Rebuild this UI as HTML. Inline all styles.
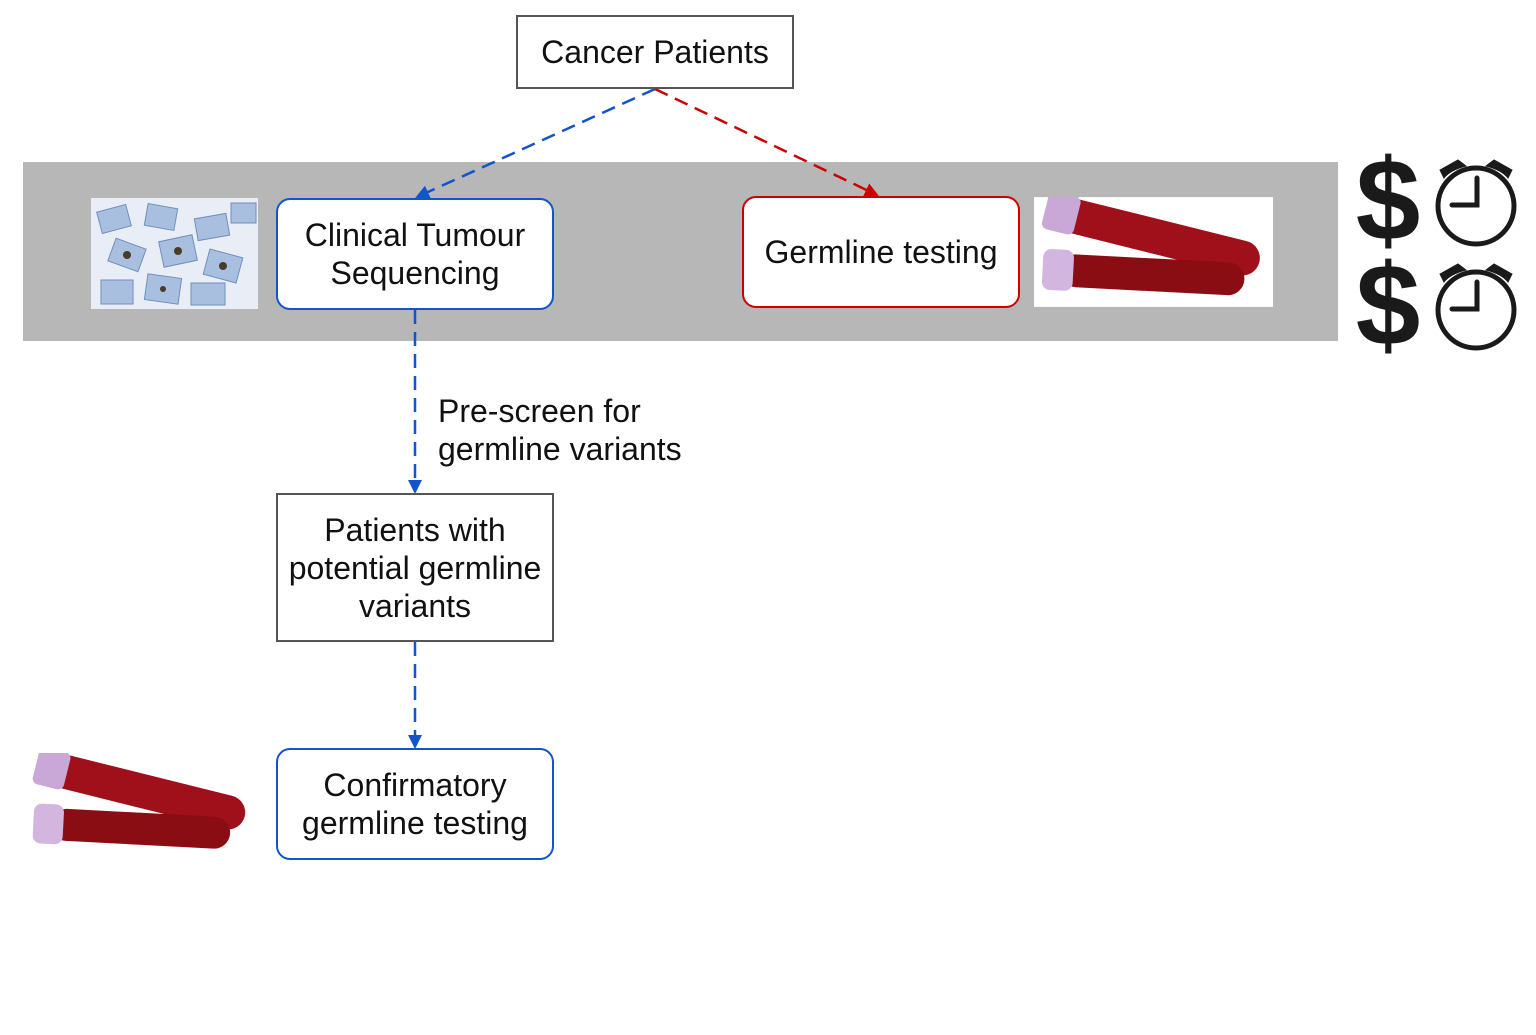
<!DOCTYPE html>
<html><head><meta charset="utf-8">
<style>
html,body{margin:0;padding:0;background:#fff;}
body{width:1536px;height:1035px;position:relative;overflow:hidden;font-family:"Liberation Sans",Arial,sans-serif;}
.box{position:absolute;box-sizing:border-box;background:#fff;display:flex;align-items:center;justify-content:center;text-align:center;font-size:32px;line-height:38px;color:#111;}
.gray{border:2px solid #555;}
.blue{border:2.5px solid #1155cc;border-radius:14px;}
.red{border:2.5px solid #cc0000;border-radius:14px;}
svg{position:absolute;left:0;top:0;}
</style></head>
<body>
<div style="position:absolute;left:23px;top:162px;width:1315px;height:179px;background:#b7b7b7;"></div>

<svg width="1536" height="1035">
<defs>
<marker id="ab" markerWidth="14" markerHeight="14" refX="12" refY="7" orient="auto" markerUnits="userSpaceOnUse"><path d="M0,0 L14,7 L0,14 z" fill="#1155cc"/></marker>
<marker id="ar" markerWidth="14" markerHeight="14" refX="12" refY="7" orient="auto" markerUnits="userSpaceOnUse"><path d="M0,0 L14,7 L0,14 z" fill="#cc0000"/></marker>
</defs>
<line x1="655" y1="89" x2="417" y2="197" stroke="#1155cc" stroke-width="2.5" stroke-dasharray="14,8" marker-end="url(#ab)"/>
<line x1="655" y1="89" x2="877" y2="195" stroke="#cc0000" stroke-width="2.5" stroke-dasharray="14,8" marker-end="url(#ar)"/>
<line x1="415" y1="310" x2="415" y2="492" stroke="#1155cc" stroke-width="2.5" stroke-dasharray="14,8" marker-end="url(#ab)"/>
<line x1="415" y1="642" x2="415" y2="747" stroke="#1155cc" stroke-width="2.5" stroke-dasharray="14,8" marker-end="url(#ab)"/>
</svg>

<div class="box gray" style="left:516px;top:15px;width:278px;height:74px;">Cancer Patients</div>
<div class="box blue" style="left:276px;top:198px;width:278px;height:112px;">Clinical Tumour<br>Sequencing</div>
<div class="box red" style="left:742px;top:196px;width:278px;height:112px;">Germline testing</div>
<div class="box gray" style="left:276px;top:493px;width:278px;height:149px;">Patients with<br>potential germline<br>variants</div>
<div class="box blue" style="left:276px;top:748px;width:278px;height:112px;">Confirmatory<br>germline testing</div>
<div style="position:absolute;left:438px;top:392px;font-size:32px;line-height:38px;color:#111;">Pre-screen for<br>germline variants</div>

<svg style="left:91px;top:198px;" width="167" height="111">
<rect width="167" height="111" fill="#e9eef6"/>
<g fill="#a9bfdf" stroke="#6f8fc0" stroke-width="1">
<rect x="8" y="10" width="30" height="22" transform="rotate(-15 23 21)"/>
<rect x="55" y="8" width="30" height="22" transform="rotate(10 70 19)"/>
<rect x="105" y="18" width="32" height="22" transform="rotate(-10 121 29)"/>
<rect x="140" y="5" width="25" height="20"/>
<rect x="20" y="45" width="32" height="24" transform="rotate(20 36 57)"/>
<rect x="70" y="40" width="34" height="26" transform="rotate(-12 87 53)"/>
<rect x="115" y="55" width="34" height="26" transform="rotate(15 132 68)"/>
<rect x="10" y="82" width="32" height="24"/>
<rect x="55" y="78" width="34" height="26" transform="rotate(8 72 91)"/>
<rect x="100" y="85" width="34" height="22"/>
</g>
<g fill="#4a3a2a"><circle cx="36" cy="57" r="4"/><circle cx="87" cy="53" r="4"/><circle cx="132" cy="68" r="4"/><circle cx="72" cy="91" r="3"/></g>
</svg>

<svg style="left:1034px;top:197px;" width="239" height="110" viewBox="0 0 233 107">
<rect width="233" height="107" fill="#fff"/>
<g transform="rotate(14 120 50)"><rect x="20" y="22" width="200" height="34" rx="17" fill="#a0101a"/><rect x="5" y="20" width="32" height="38" rx="6" fill="#c9a8d8"/></g>
<g transform="rotate(3 120 80)"><rect x="25" y="60" width="180" height="32" rx="16" fill="#8a0d14"/><rect x="8" y="56" width="30" height="40" rx="8" fill="#d3b6e0"/></g>
</svg>
<svg style="left:25px;top:753px;" width="233" height="107" viewBox="0 0 233 107">
<rect width="233" height="107" fill="#fff"/>
<g transform="rotate(14 120 50)"><rect x="20" y="22" width="200" height="34" rx="17" fill="#a0101a"/><rect x="5" y="20" width="32" height="38" rx="6" fill="#c9a8d8"/></g>
<g transform="rotate(3 120 80)"><rect x="25" y="60" width="180" height="32" rx="16" fill="#8a0d14"/><rect x="8" y="56" width="30" height="40" rx="8" fill="#d3b6e0"/></g>
</svg>

<svg style="left:1340px;top:150px;" width="190" height="205">
<rect width="190" height="205" fill="#fff"/>
<text x="48" y="90" text-anchor="middle" font-family="Liberation Sans" font-weight="bold" font-size="116" fill="#1a1a1a">$</text>
<text x="48" y="195" text-anchor="middle" font-family="Liberation Sans" font-weight="bold" font-size="116" fill="#1a1a1a">$</text>
<g fill="none" stroke="#1a1a1a" stroke-width="5">
<circle cx="136" cy="56" r="38"/><path d="M137 28 V55 H112" stroke-linecap="round"/>
<path d="M100 20 L118 10 L126 16 Q110 20 104 28 Z" fill="#1a1a1a" stroke-width="1"/>
<path d="M172 20 L154 10 L146 16 Q162 20 168 28 Z" fill="#1a1a1a" stroke-width="1"/>
</g>
<g fill="none" stroke="#1a1a1a" stroke-width="5">
<circle cx="136" cy="160" r="38"/><path d="M137 132 V159 H112" stroke-linecap="round"/>
<path d="M100 124 L118 114 L126 120 Q110 124 104 132 Z" fill="#1a1a1a" stroke-width="1"/>
<path d="M172 124 L154 114 L146 120 Q162 124 168 132 Z" fill="#1a1a1a" stroke-width="1"/>
</g>
</svg>
</body></html>
